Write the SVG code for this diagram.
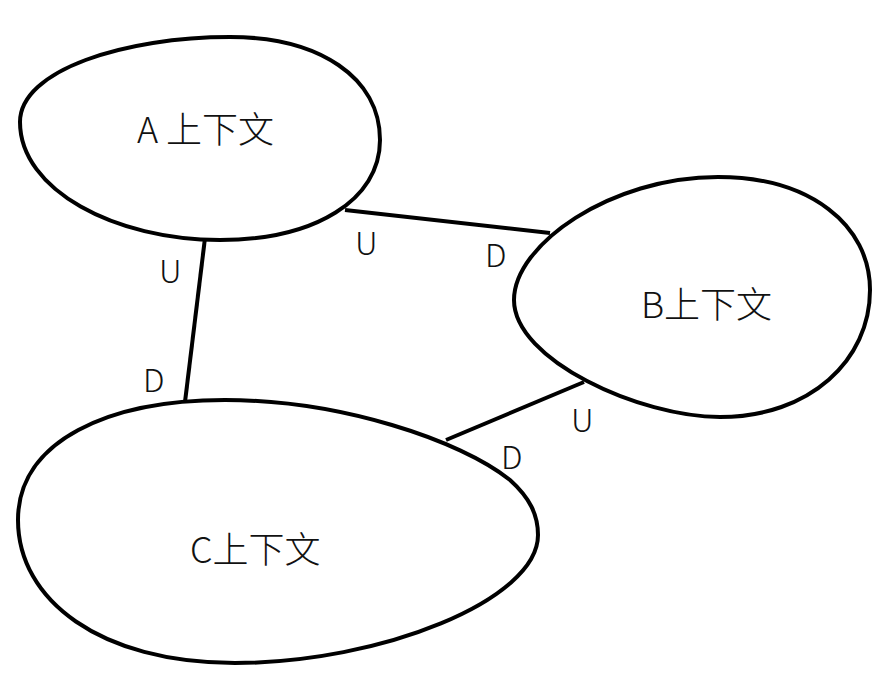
<svg xmlns="http://www.w3.org/2000/svg" width="887" height="678" viewBox="0 0 887 678">
<style>
.blob{fill:#fff;stroke:#000;stroke-width:4}
.edge{stroke:#000;stroke-width:4;fill:none}
.t{font-family:"Noto Sans CJK SC","Liberation Sans",sans-serif;font-weight:300;fill:#111}
.n{font-size:36px}
.l{font-size:32px}
</style>
<rect width="887" height="678" fill="#fff"/>
<g id="connectors">
<line class="edge" x1="205" y1="238" x2="185" y2="402"/>
<line class="edge" x1="345" y1="210" x2="550" y2="233"/>
<line class="edge" x1="584" y1="382" x2="446" y2="440"/>
</g>
<g id="nodeA">
<path class="blob" d="M20,122 C20,70 125,37 230,37 C320,37 380,78 380,140 C380,200 315,240 220,240 C115,240 20,190 20,122 Z"/>
<text class="t n" x="137" y="143">A 上下文</text>
</g>
<g id="nodeB">
<path class="blob" d="M514,300 C514,245 610,177 718,177 C810,177 870,225 870,290 C870,360 810,417 720,417 C640,417 514,360 514,300 Z"/>
<text class="t n" x="641" y="318">B上下文</text>
</g>
<g id="nodeC">
<path class="blob" d="M18,520 C18,440 110,400 225,400 C340,400 460,440 510,480 C530,498 538,515 538,535 C538,600 380,663 235,663 C100,663 18,600 18,520 Z"/>
<text class="t n" x="190" y="563">C上下文</text>
</g>
<g id="labels">
<text class="t l" x="159" y="283">U</text>
<text class="t l" x="143" y="392">D</text>
<text class="t l" x="355" y="255">U</text>
<text class="t l" x="485" y="267">D</text>
<text class="t l" x="571" y="432">U</text>
<text class="t l" x="501" y="469">D</text>
</g>
</svg>
